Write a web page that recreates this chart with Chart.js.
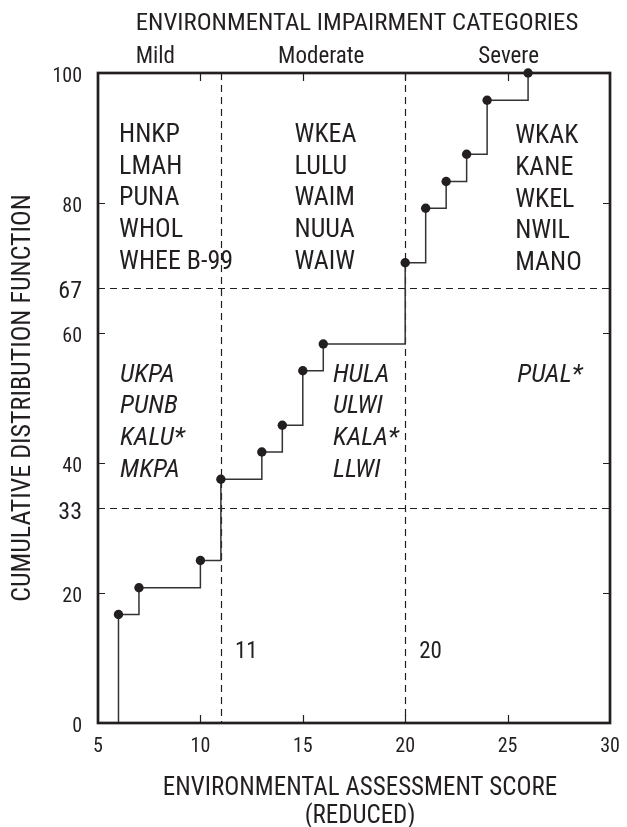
<!DOCTYPE html>
<html>
<head>
<meta charset="utf-8">
<title>Cumulative distribution of environmental assessment scores</title>
<script src="https://cdn.jsdelivr.net/npm/chart.js@4.4.1/dist/chart.umd.min.js"></script>
<style>
  html, body { margin: 0; padding: 0; background: #ffffff; }
  #chart { display: block; }
</style>
</head>
<body>
<canvas id="chart" width="627" height="827"></canvas>
<script>
// Step curve: reduced environmental assessment score vs. cumulative percent of sites
const scores = [5, 6, 7, 10, 11, 13, 14, 15, 16, 20, 21, 22, 23, 24, 26, 30];
const cdf    = [0, 16.7, 20.8, 25.0, 37.5, 41.7, 45.8, 54.2, 58.3, 70.8, 79.2, 83.3, 87.5, 95.8, 100, 100];

// Axis ticks
const xTickValues = [5, 10, 15, 20, 25, 30];
const yTickValues = [0, 20, 33, 40, 60, 67, 80, 100];
const yEmphasised = [33, 67];

// Category boundaries (score and cumulative percent)
const boundaryScores = [11, 20];
const boundaryCdf = [33, 67];

// Impairment categories
const categories = ['Mild', 'Moderate', 'Severe'];

// Axis titles
const topTitle = 'ENVIRONMENTAL IMPAIRMENT CATEGORIES';
const xTitleLines = ['ENVIRONMENTAL ASSESSMENT SCORE', '(REDUCED)'];
const yTitle = 'CUMULATIVE DISTRIBUTION FUNCTION';

// Site codes listed in each category column
const mildUpper     = ['HNKP', 'LMAH', 'PUNA', 'WHOL', 'WHEE B-99'];
const moderateUpper = ['WKEA', 'LULU', 'WAIM', 'NUUA', 'WAIW'];
const severeUpper   = ['WKAK', 'KANE', 'WKEL', 'NWIL', 'MANO'];
const mildLower     = ['UKPA', 'PUNB', 'KALU*', 'MKPA'];
const moderateLower = ['HULA', 'ULWI', 'KALA*', 'LLWI'];
const severeLower   = ['PUAL*'];

const INK = '#231f20';
const FONT = '"Liberation Sans Narrow", "Arial Narrow", "Roboto Condensed", "Liberation Sans", sans-serif';

// Text blocks placed in data coordinates: [names, x score, first baseline percent, italic]
const siteBlocks = [
  [mildUpper,     6.03,  89.4, false],
  [moderateUpper, 14.6,  89.4, false],
  [severeUpper,   25.37, 89.2, false],
  [mildLower,     6.08,  52.5, true],
  [moderateLower, 16.47, 52.5, true],
  [severeLower,   25.47, 52.4, true]
];
const categoryCentres = [7.8, 15.9, 25.05];

const decorations = {
  id: 'decorations',
  beforeDatasetsDraw(chart) {
    const { ctx, chartArea: a, scales: { x, y } } = chart;
    ctx.save();
    ctx.strokeStyle = INK;
    ctx.lineWidth = 1.2;
    ctx.setLineDash([7, 5]);
    boundaryScores.forEach(v => {
      const px = Math.round(x.getPixelForValue(v)) + 0.5;
      ctx.beginPath(); ctx.moveTo(px, a.top); ctx.lineTo(px, a.bottom); ctx.stroke();
    });
    boundaryCdf.forEach(v => {
      const py = Math.round(y.getPixelForValue(v)) + 0.5;
      ctx.beginPath(); ctx.moveTo(a.left, py); ctx.lineTo(a.right, py); ctx.stroke();
    });
    ctx.restore();
  },
  afterDraw(chart) {
    const { ctx, chartArea: a, scales: { x, y } } = chart;
    ctx.save();
    ctx.fillStyle = INK;
    ctx.strokeStyle = INK;

    // frame
    ctx.lineWidth = 2.7;
    ctx.setLineDash([]);
    ctx.strokeRect(a.left, a.top, a.right - a.left, a.bottom - a.top);

    // inward tick marks
    ctx.lineWidth = 1.2;
    [20, 40, 60, 80].forEach(v => {
      const py = Math.round(y.getPixelForValue(v)) + 0.5;
      ctx.beginPath();
      ctx.moveTo(a.left, py); ctx.lineTo(a.left + 7, py);
      ctx.moveTo(a.right, py); ctx.lineTo(a.right - 7, py);
      ctx.stroke();
    });
    [10, 15, 20, 25].forEach(v => {
      const px = Math.round(x.getPixelForValue(v)) + 0.5;
      ctx.beginPath();
      ctx.moveTo(px, a.top); ctx.lineTo(px, a.top + 8);
      ctx.moveTo(px, a.bottom); ctx.lineTo(px, a.bottom - 8);
      ctx.stroke();
    });

    const midX = (a.left + a.right) / 2;

    // top title and category names
    ctx.textAlign = 'center';
    ctx.textBaseline = 'alphabetic';
    ctx.font = '24.8px ' + FONT;
    ctx.fillText(topTitle, midX + 3, 30);
    ctx.font = '23px ' + FONT;
    categories.forEach((c, i) => {
      ctx.fillText(c, x.getPixelForValue(categoryCentres[i]), 63);
    });

    // x-axis title (two lines)
    ctx.font = '25px ' + FONT;
    ctx.fillText(xTitleLines[0], midX + 6, 795);
    ctx.fillText(xTitleLines[1], midX + 6, 823);

    // boundary score labels
    ctx.textAlign = 'left';
    ctx.font = '23px ' + FONT;
    boundaryScores.forEach(v => {
      ctx.fillText(String(v), x.getPixelForValue(v) + 14, y.getPixelForValue(10.0));
    });

    // site code columns
    siteBlocks.forEach(([names, sx, sy, italic]) => {
      ctx.font = (italic ? 'italic ' : '') + '26px ' + FONT;
      const px = x.getPixelForValue(sx);
      const py0 = y.getPixelForValue(sy);
      names.forEach((n, i) => ctx.fillText(n, px, py0 + i * 31.7));
    });
    ctx.restore();
  }
};

new Chart(document.getElementById('chart'), {
  type: 'line',
  data: {
    datasets: [{
      data: scores.map((s, i) => ({ x: s, y: cdf[i] })),
      stepped: true,
      borderColor: '#333333',
      borderWidth: 1.5,
      pointRadius: ctx => (ctx.dataIndex === 0 || ctx.dataIndex === scores.length - 1) ? 0 : 4.7,
      pointBackgroundColor: INK,
      pointBorderWidth: 0,
      clip: false
    }]
  },
  options: {
    responsive: false,
    animation: false,
    events: [],
    layout: { padding: { top: 73, right: 17, left: 0, bottom: 0 } },
    plugins: { legend: { display: false }, tooltip: { enabled: false } },
    scales: {
      x: {
        type: 'linear',
        min: 5, max: 30,
        afterBuildTicks: s => { s.ticks = xTickValues.map(v => ({ value: v })); },
        afterFit: s => { s.height = 104; s.paddingLeft = 0; s.paddingRight = 0; },
        grid: { display: false, drawTicks: false },
        border: { display: false },
        ticks: { color: INK, padding: 12, font: { family: FONT, size: 20 }, maxRotation: 0 },
        title: { display: false }
      },
      y: {
        type: 'linear',
        min: 0, max: 100,
        afterBuildTicks: s => { s.ticks = yTickValues.map(v => ({ value: v })); },
        afterFit: s => { s.width = 98; s.paddingTop = 0; s.paddingBottom = 0; },
        grid: { display: false, drawTicks: false },
        border: { display: false },
        ticks: {
          color: INK,
          padding: 16,
          labelOffset: 4,
          font: c => ({ family: FONT, size: yEmphasised.includes(c.tick && c.tick.value) ? 24 : 20 })
        },
        title: {
          display: true,
          text: yTitle,
          color: INK,
          font: { family: FONT, size: 26, lineHeight: 1.2 },
          padding: { top: 8, bottom: 0 }
        }
      }
    }
  },
  plugins: [decorations]
});
</script>
</body>
</html>
